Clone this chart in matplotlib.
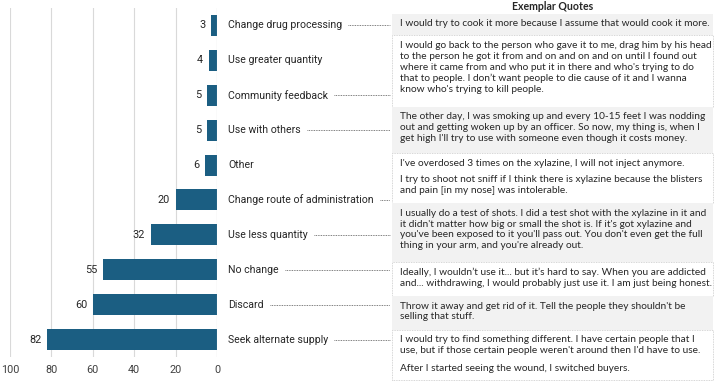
import matplotlib
matplotlib.use('Agg')
import matplotlib.pyplot as plt
from matplotlib import transforms
from matplotlib.patches import Rectangle
from matplotlib.lines import Line2D

# Data (top to bottom)
categories = ['Change drug processing', 'Use greater quantity', 'Community feedback',
              'Use with others', 'Other', 'Change route of administration',
              'Use less quantity', 'No change', 'Discard', 'Seek alternate supply']
counts = [3, 4, 5, 5, 6, 20, 32, 55, 60, 82]
has_quote = [True, False, True, True, False, True, True, True, True, True]
x_ticks = [100, 80, 60, 40, 20, 0]

# quotes: one entry per box, paragraphs separated inside each box
quotes = [
    ["I would try to cook it more because I assume that would cook it more."],
    ["I would go back to the person who gave it to me, drag him by his head\n"
     "to the person he got it from and on and on and on until I found out\n"
     "where it came from and who put it in there and who's trying to do\n"
     "that to people. I don\u2019t want people to die cause of it and I wanna\n"
     "know who's trying to kill people."],
    ["The other day, I was smoking up and every 10-15 feet I was nodding\n"
     "out and getting woken up by an officer. So now, my thing is, when I\n"
     "get high I'll try to use with someone even though it costs money."],
    ["I've overdosed 3 times on the xylazine, I will not inject anymore.",
     "I try to shoot not sniff if I think there is xylazine because the blisters\n"
     "and pain [in my nose] was intolerable."],
    ["I usually do a test of shots. I did a test shot with the xylazine in it and\n"
     "it didn't matter how big or small the shot is. If it's got xylazine and\n"
     "you've been exposed to it you'll pass out. You don't even get the full\n"
     "thing in your arm, and you're already out."],
    ["Ideally, I wouldn\u2019t use it... but it\u2019s hard to say. When you are addicted\n"
     "and... withdrawing, I would probably just use it. I am just being honest."],
    ["Throw it away and get rid of it. Tell the people they shouldn't be\n"
     "selling that stuff."],
    ["I would try to find something different. I have certain people that I\n"
     "use, but if those certain people weren't around then I'd have to use.",
     "After I started seeing the wound, I switched buyers."],
]

W, H = 720, 383
bar_color = '#1b5e82'
grid_color = '#d9d9d9'
text_color = '#262626'

fig = plt.figure(figsize=(W / 100, H / 100), dpi=100)
ax = fig.add_axes([10 / W, 1 - 357 / H, 207 / W, 349 / H])

y = list(range(len(categories)))
ax.barh(y, counts, height=0.6, color=bar_color, zorder=3)
ax.set_xlim(100, 0)
ax.set_ylim(len(categories) - 0.5, -0.5)
ax.set_xticks(x_ticks)
ax.set_xticklabels([str(t) for t in x_ticks], fontsize=7.8, color='#404040', family='Roboto')
ax.tick_params(axis='x', length=0, pad=6)
ax.set_yticks([])
ax.grid(axis='x', color=grid_color, linewidth=0.8, zorder=0)
for s in ax.spines.values():
    s.set_visible(False)
ax.axvline(0, color=grid_color, linewidth=0.8, zorder=4)

for yi, c in zip(y, counts):
    ax.annotate(str(c), (c, yi), xytext=(-4, 0), textcoords='offset points',
                ha='right', va='center', fontsize=7.8, color=text_color, family='Roboto')

# category labels, placed in figure x and data y
trans = transforms.blended_transform_factory(fig.transFigure, ax.transData)
labels = []
for yi, cat in zip(y, categories):
    t = fig.text(228 / W, yi, cat, transform=trans, ha='left', va='center',
                 fontsize=7.6, color=text_color, family='Roboto')
    labels.append(t)

fig.canvas.draw()
renderer = fig.canvas.get_renderer()
box_left, box_right = 392, 713
for t, yi, q in zip(labels, y, has_quote):
    if not q:
        continue
    bb = t.get_window_extent(renderer)
    ypix = ax.transData.transform((0, yi))[1]
    fig.add_artist(Line2D([(bb.x1 + 6) / W, (box_left - 2) / W], [ypix / H, ypix / H],
                          transform=fig.transFigure, color='#555555',
                          linewidth=0.6, linestyle=(0, (1, 1))))

# quote boxes
fig.text((box_left + box_right) / 2 / W, 1 - 6 / H, 'Exemplar Quotes', ha='center', va='center',
         fontsize=7.6, fontweight='bold', color=text_color, family='Lato')

line_h = 12.45
pad = 4.5
para_gap = 4
top = 14
for i, paras in enumerate(quotes):
    nlines = sum(p.count('\n') + 1 for p in paras)
    h = nlines * line_h + 2 * pad + para_gap * (len(paras) - 1)
    gray = i % 2 == 0
    rect = Rectangle((box_left / W, 1 - (top + h) / H), (box_right - box_left) / W, h / H,
                     transform=fig.transFigure,
                     facecolor='#f2f2f2' if gray else 'white',
                     edgecolor='none' if gray else '#c8c8c8',
                     linewidth=0.6, linestyle=(0, (1, 1)))
    fig.add_artist(rect)
    ty = top + pad
    for p in paras:
        n = p.count('\n') + 1
        fig.text((box_left + 8) / W, 1 - (ty + 1) / H, p, ha='left', va='top',
                 fontsize=7.3, color=text_color, family='Lato', linespacing=1.255)
        ty += n * line_h + para_gap
    top += h

fig.savefig('out.png', dpi=100)
